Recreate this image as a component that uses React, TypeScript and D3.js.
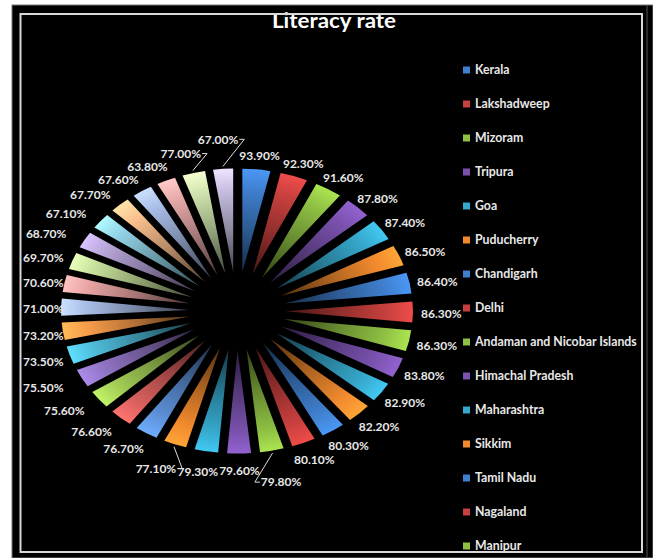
import React, { useMemo } from "react";
import * as d3 from "d3";

const states = [
  "Kerala", "Lakshadweep", "Mizoram", "Tripura", "Goa", "Puducherry", "Chandigarh", "Delhi",
  "Andaman and Nicobar Islands", "Himachal Pradesh", "Maharashtra", "Sikkim", "Tamil Nadu",
  "Nagaland", "Manipur", "Uttarakhand", "Gujarat", "West Bengal", "Punjab", "Haryana",
  "Karnataka", "Meghalaya", "Odisha", "Assam", "Chhattisgarh", "Madhya Pradesh",
  "Uttar Pradesh", "Jammu and Kashmir", "Rajasthan", "Andhra Pradesh", "Jharkhand", "Bihar",
  "Dadra and Nagar Haveli", "Arunachal Pradesh",
];
const rates = [
  93.9, 92.3, 91.6, 87.8, 87.4, 86.5, 86.4, 86.3, 86.3, 83.8, 82.9, 82.2, 80.3, 80.1, 79.8,
  79.6, 79.3, 77.1, 76.7, 76.6, 75.6, 75.5, 73.5, 73.2, 71.0, 70.6, 69.7, 68.7, 67.1, 67.7,
  67.6, 63.8, 77.0, 67.0,
];
const title = "Literacy rate";

const palette = [
  "#3f7fce", "#c8403e", "#8fc043", "#7a52ae", "#36a8cc", "#f28a2e",
  "#3f7fce", "#c8403e", "#8fc043", "#7a52ae", "#36a8cc", "#f28a2e",
  "#3f7fce", "#c8403e", "#8fc043", "#7a52ae", "#36a8cc", "#f28a2e",
  "#5d90d8", "#d9605e", "#a2cc55", "#9074c4", "#4fbbd9", "#f79c4a",
  "#a8bce6", "#e6a3a2", "#c4de9a", "#b6a4d6", "#92d2e6", "#f8be8c",
  "#a8bce6", "#e6a9a8", "#cfe4ae", "#c8bfe2",
];

const W = 653;
const H = 558;
const LABEL_FONT = "bold 12px Lato";

function measure(text: string, font: string): number {
  const c = document.createElement("canvas").getContext("2d");
  if (!c) return text.length * 6.6;
  c.font = font;
  return c.measureText(text).width;
}

export default function App() {
  const cx = 237, cy = 311, R = 128, explode = 48, sy = 0.81;
  const lcy = 313, rlxR = 184, rlxL = 200, rly = 152;
  const plotLeft = 23, plotTop = 34, plotBottom = 551;

  const arcs = useMemo(
    () => d3.pie<number>().sort(null).value((d) => d).startAngle(0).endAngle(2 * Math.PI)(rates),
    []
  );
  const arcGen = d3.arc<d3.PieArcDatum<number>>().innerRadius(0).outerRadius(R);

  const labelInfo = useMemo(() => {
    const h = 12;
    const items = arcs.map((a, i) => {
      const th = (a.startAngle + a.endAngle) / 2;
      const s = Math.sin(th), c = Math.cos(th);
      const text = rates[i].toFixed(2) + "%";
      const w = measure(text, LABEL_FONT);
      return { i, th, s, c, text, w, h, x: 0, y: 0, moved: false };
    });
    const place = (it: any, t: number) => {
      const rx = (it.s >= 0 ? rlxR : rlxL) + t;
      const ry = rly + t * 0.81;
      let x = cx + rx * it.s + (it.w / 2) * it.s;
      let y = lcy - ry * it.c - (it.h / 2) * it.c;
      if (x - it.w / 2 < plotLeft) x = plotLeft + it.w / 2;
      if (y - it.h / 2 < plotTop) y = plotTop + it.h / 2;
      it.x = x; it.y = y;
    };
    const right = items.filter((d) => d.s >= 0).sort((a, b) => b.th - a.th);
    const left = items.filter((d) => d.s < 0).sort((a, b) => a.th - b.th);
    const placed: any[] = [];
    const overlaps = (a: any) =>
      placed.some(
        (b) => Math.abs(a.x - b.x) < (a.w + b.w) / 2 + 1 && Math.abs(a.y - b.y) < (a.h + b.h) / 2 + 1
      );
    for (const it of [...right, ...left]) {
      let t = 0;
      place(it, t);
      while (overlaps(it) && t < 80) {
        t += 2;
        place(it, t);
      }
      it.moved = t > 4;
      placed.push(it);
    }
    return items;
  }, [arcs]);

  const legendY = d3.scaleLinear().domain([0, 1]).range([70, 104]);
  const legendItems = states
    .map((s, i) => ({ s, i, y: legendY(i) }))
    .filter((d) => d.y + 4 < plotBottom);

  return (
    <svg width={W} height={H} style={{ position: "absolute", left: 0, top: 0, background: "#fff" }}>
      <defs>
        {arcs.map((a, i) => {
          const col = d3.color(palette[i % palette.length])!;
          return (
            <radialGradient key={i} id={`g${i}`} gradientUnits="userSpaceOnUse" cx={0} cy={0} r={R}>
              <stop offset="0%" stopColor={col.darker(3).formatHex()} />
              <stop offset="40%" stopColor={col.darker(1).formatHex()} />
              <stop offset="80%" stopColor={col.formatHex()} />
              <stop offset="100%" stopColor={col.brighter(0.5).formatHex()} />
            </radialGradient>
          );
        })}
        <clipPath id="plotclip">
          <rect x={21} y={15} width={620} height={536} />
        </clipPath>
      </defs>
      <rect x={12} y={5} width={W - 12} height={H - 5} fill="#000" stroke="#777" strokeWidth={1} />
      <line x1={647} y1={5} x2={647} y2={H} stroke="#555" strokeWidth={1} />

      <text x={334} y={28} textAnchor="middle" fill="#fff" textLength={124} lengthAdjust="spacingAndGlyphs"
        style={{ font: "bold 20px Lato" }}>
        {title}
      </text>

      <g transform={`translate(${cx},${cy}) scale(1,${sy})`}>
        {arcs.map((a, i) => {
          const th = (a.startAngle + a.endAngle) / 2;
          const dx = explode * Math.sin(th), dy = -explode * Math.cos(th);
          return (
            <g key={i} transform={`translate(${dx},${dy})`}>
              <path d={arcGen(a)!} fill={`url(#g${i})`} />
            </g>
          );
        })}
      </g>

      <g>
        {labelInfo.map((l) => {
          let lead = null;
          if (l.moved) {
            const tr = R + explode + 3;
            const tx = cx + tr * l.s, ty = cy - tr * sy * l.c;
            const toRight = tx > l.x;
            const ex = toRight ? l.x + l.w / 2 + 1 : l.x - l.w / 2 - 1;
            const ey = l.y;
            const ex2 = ex + (toRight ? 5 : -5);
            lead = (
              <polyline points={`${ex},${ey} ${ex2},${ey} ${tx},${ty}`} fill="none" stroke="#ddd" strokeWidth={1} />
            );
          }
          return (
            <g key={l.i}>
              {lead}
              <text x={l.x} y={l.y} dy="0.36em" textAnchor="middle" fill="#e8e8e8" style={{ font: LABEL_FONT }}>
                {l.text}
              </text>
            </g>
          );
        })}
      </g>

      <g clipPath="url(#plotclip)">
        {legendItems.map((d) => (
          <g key={d.s} transform={`translate(463,${d.y})`}>
            <rect x={0} y={-3.5} width={7} height={7} fill={palette[d.i % palette.length]} />
            <text x={12} y={0} dy="0.36em" fill="#e8e8e8" style={{ font: "bold 12.3px Lato" }}>
              {d.s}
            </text>
          </g>
        ))}
      </g>

      <rect x={20.5} y={14} width={621.5} height={538} fill="none" stroke="#d8d8d8" strokeWidth={2} />
    </svg>
  );
}
